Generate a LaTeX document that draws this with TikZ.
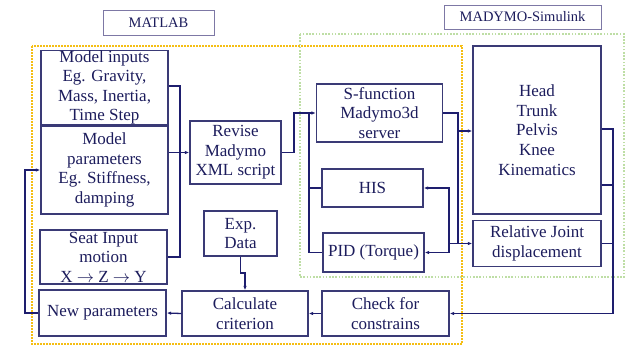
\documentclass[tikz,border=0pt]{standalone}
\usepackage{fontspec}
\setmainfont{Liberation Serif}
\usetikzlibrary{arrows.meta}
\definecolor{boxc}{RGB}{58,58,118}
\definecolor{txtc}{RGB}{28,28,92}
\definecolor{linec}{RGB}{30,30,110}
\definecolor{orng}{RGB}{245,190,20}
\definecolor{grn}{RGB}{190,222,165}
\definecolor{lblc}{RGB}{125,120,165}
\begin{document}
\begin{tikzpicture}[x=1pt,y=-1pt,
  blk/.style={draw=boxc, line width=1.3pt, text=txtc, align=center,
    font=\fontsize{17}{19.6}\selectfont, inner sep=0pt},
  lbl/.style={draw=lblc, line width=0.8pt, text=txtc, align=center,
    font=\fontsize{14.5}{16}\selectfont, inner sep=0pt},
  wire/.style={draw=linec, line width=1.3pt},
  arr/.style={wire, -{Latex[length=4.5pt,width=3.5pt]}},
  orangebox/.style={draw=orng, line width=2.6pt, dash pattern=on 1.6pt off 1.4pt},
  greenbox/.style={draw=grn, line width=2pt, dash pattern=on 1.6pt off 1.6pt}]
\useasboundingbox (0,0) rectangle (628,348);

% group frames
\draw[greenbox] (300,34) rectangle (624,277);
\draw[orangebox] (32,46) rectangle (462,344);

% labels
\node[lbl, minimum width=111pt, minimum height=25pt] (matlab) at (158.5,22.5) {MATLAB};
\node[lbl, minimum width=157pt, minimum height=24pt] (simu) at (522.5,17) {MADYMO-Simulink};

% blocks
\node[blk, minimum width=127pt, minimum height=73pt] (inputs) at (104.5,87.5) {Model inputs\\Eg. Gravity,\\Mass, Inertia,\\Time Step};
\node[blk, minimum width=127pt, minimum height=88pt] (params) at (104.5,170) {Model\\parameters\\Eg. Stiffness,\\damping};
\node[blk, minimum width=127pt, minimum height=54pt] (seat) at (103.5,257) {Seat Input\\motion\\X $\rightarrow$ Z $\rightarrow$ Y};
\node[blk, minimum width=127pt, minimum height=46pt] (newp) at (102.5,313) {New parameters};
\node[blk, minimum width=91pt, minimum height=63pt] (revise) at (235.5,152.5) {Revise\\Madymo\\XML script};
\node[blk, minimum width=73pt, minimum height=45pt] (exp) at (240.5,233.5) {Exp.\\Data};
\node[blk, minimum width=126pt, minimum height=45pt] (calc) at (245,313.5) {Calculate\\criterion};
\node[blk, minimum width=126pt, minimum height=58pt] (sfun) at (379.5,113) {S-function\\Madymo3d\\server};
\node[blk, minimum width=101pt, minimum height=38pt] (his) at (372.5,188) {HIS};
\node[blk, minimum width=101pt, minimum height=39pt] (pid) at (373.5,252.5) {PID (Torque)};
\node[blk, minimum width=128pt, minimum height=168pt] (head) at (537,130) {Head\\Trunk\\Pelvis\\Knee\\Kinematics};
\node[blk, minimum width=128pt, minimum height=46pt] (rel) at (537,243.5) {Relative Joint\\displacement};
\node[blk, minimum width=127pt, minimum height=45pt] (check) at (385.5,313.5) {Check for\\constrains};

% junction coordinates
\coordinate (jin) at (180,152.5);
\coordinate (jrev) at (294,152.5);
\coordinate (jsf) at (309,113);
\coordinate (jout) at (458,113);
\coordinate (jrel) at (458,243.5);
\coordinate (jfb) at (449,243.5);
\coordinate (jright) at (613,129);
\coordinate (jexp) at (240.5,273);
\coordinate (jnew) at (25,313);

% inputs to revise
\draw[wire] (inputs.east |- 0,86) -| (jin) |- (seat.east);
\draw[arr] (params.east |- jin) -- (revise.west);
% revise to s-function
\draw[arr] (revise.east) -- (jrev) |- (sfun.west);
\draw[wire] (jsf) |- (his.west);
\draw[wire] (jsf) |- (pid.west);
% s-function outputs
\draw[wire] (sfun.east) -- (jout) -- (jrel);
\draw[arr] (jout |- 0,131) -- (head.west |- 0,131);
\draw[arr] (jrel) -- (rel.west);
\draw[wire] (jrel) -- (jfb);
\draw[arr] (jfb) |- (his.east);
\draw[arr] (jfb) |- (pid.east);
% kinematics outputs
\draw[wire] (head.east |- jright) -- (jright) -- (jright |- check.east);
\draw[wire] (head.east |- 0,185) -- (jright |- 0,185);
\draw[wire] (rel.east) -- (jright |- rel.east);
\draw[arr] (jright |- check.east) -- (check.east);
% bottom chain
\draw[arr] (check.west) -- (calc.east);
\draw[arr] (calc.west) -- (newp.east);
\draw[arr] (exp.south) -- (jexp) -| (calc.north);
\draw[arr] (newp.west) -- (jnew) |- (params.west);
\end{tikzpicture}
\end{document}
